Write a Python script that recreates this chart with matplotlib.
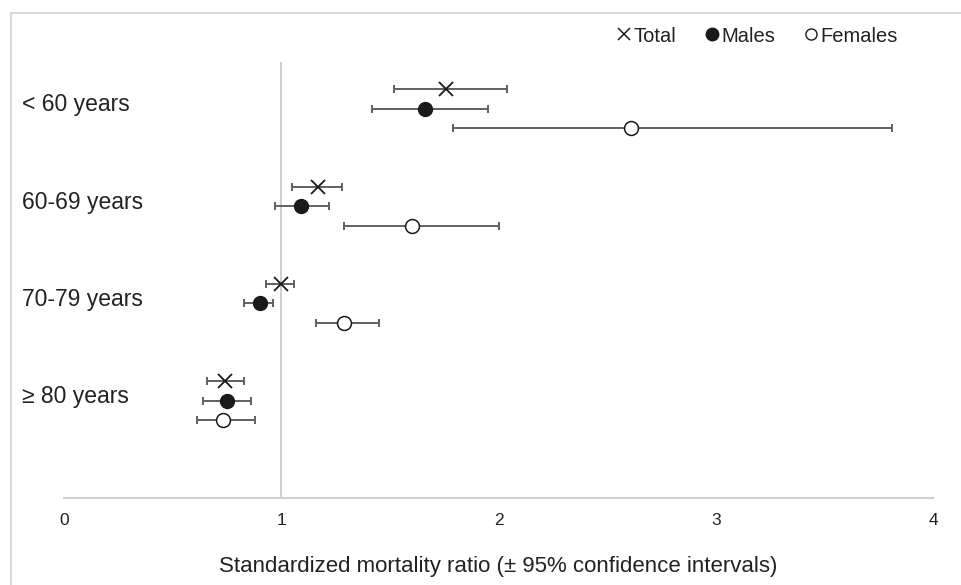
import matplotlib
matplotlib.use('Agg')
import matplotlib.pyplot as plt
from matplotlib.lines import Line2D
from matplotlib.transforms import blended_transform_factory
import numpy as np

plt.rcParams['font.family'] = ['Liberation Sans', 'DejaVu Sans']

# Standardized mortality ratios with 95% CI, by age group
age_groups = ['< 60 years', '60-69 years', '70-79 years', '\u2265 80 years']

total_smr = [1.76, 1.17, 1.00, 0.74]
total_lo = [1.52, 1.05, 0.93, 0.66]
total_hi = [2.04, 1.28, 1.06, 0.83]

males_smr = [1.66, 1.09, 0.90, 0.75]
males_lo = [1.42, 0.97, 0.83, 0.64]
males_hi = [1.95, 1.22, 0.96, 0.86]

females_smr = [2.61, 1.60, 1.29, 0.73]
females_lo = [1.79, 1.29, 1.16, 0.61]
females_hi = [3.81, 2.00, 1.45, 0.88]

W, H = 961, 585
fig = plt.figure(figsize=(W / 100, H / 100), dpi=100)
ax = fig.add_axes([64 / W, 1 - 498 / H, (933 - 64) / W, (498 - 62) / H])

y = np.arange(len(age_groups))
err_color = '#606060'
mk_color = '#1a1a1a'
txt_color = '#222222'


def draw(vals, lo, hi, offset, **mk):
    vals = np.array(vals)
    xerr = [vals - np.array(lo), np.array(hi) - vals]
    ax.errorbar(vals, y + offset, xerr=xerr, fmt='none', ecolor=err_color,
                elinewidth=1.4, capsize=3, capthick=1.4, zorder=2)
    ax.plot(vals, y + offset, linestyle='none', zorder=3, **mk)


draw(total_smr, total_lo, total_hi, -0.2,
     marker='x', markersize=10, markeredgewidth=1.3, color=mk_color)
draw(males_smr, males_lo, males_hi, 0.0,
     marker='o', markersize=10, markerfacecolor=mk_color, markeredgecolor=mk_color)
draw(females_smr, females_lo, females_hi, 0.2,
     marker='o', markersize=10, markerfacecolor='white', markeredgecolor=mk_color,
     markeredgewidth=1.1)

ax.axvline(1, color='#c8c8c8', lw=1.3, zorder=1)

ax.set_xlim(0, 4)
ax.set_ylim(4.0, -0.48)
ax.set_xticks([0, 1, 2, 3, 4])
ax.set_yticks([])
ax.tick_params(axis='x', length=0, pad=11, labelsize=12.5, labelcolor=txt_color)
for s in ['top', 'right', 'left']:
    ax.spines[s].set_visible(False)
ax.spines['bottom'].set_color('#d0d0d0')
ax.spines['bottom'].set_linewidth(1.5)

ax.set_xlabel('Standardized mortality ratio (\u00b1 95% confidence intervals)',
              fontsize=16, color=txt_color, labelpad=20)

# category labels on the left
lab_tr = blended_transform_factory(fig.transFigure, ax.transData)
for i, lab in enumerate(age_groups):
    ax.text(22 / W, i - 0.04, lab, transform=lab_tr,
            ha='left', va='center', fontsize=16.5, color=txt_color)

handles = [
    Line2D([], [], marker='x', linestyle='none', markersize=9, markeredgewidth=1.1, color=mk_color),
    Line2D([], [], marker='o', linestyle='none', markersize=9, markerfacecolor=mk_color, markeredgecolor=mk_color),
    Line2D([], [], marker='o', linestyle='none', markersize=8, markerfacecolor='white', markeredgecolor=mk_color),
]
fig.legend(handles, ['Total', 'Males', 'Females'], loc='center right',
           bbox_to_anchor=(916 / W, 1 - 36 / H), ncol=3, frameon=False,
           fontsize=14.5, handlelength=0.6, handletextpad=0.15, columnspacing=1.5,
           labelcolor=txt_color)

# light outer frame
fig.add_artist(Line2D([11 / W, 11 / W], [0, 1 - 13 / H], color='#d9d9d9', lw=1.5))
fig.add_artist(Line2D([11 / W, 1], [1 - 13 / H, 1 - 13 / H], color='#d9d9d9', lw=1.5))

fig.savefig('out.png', dpi=100)
